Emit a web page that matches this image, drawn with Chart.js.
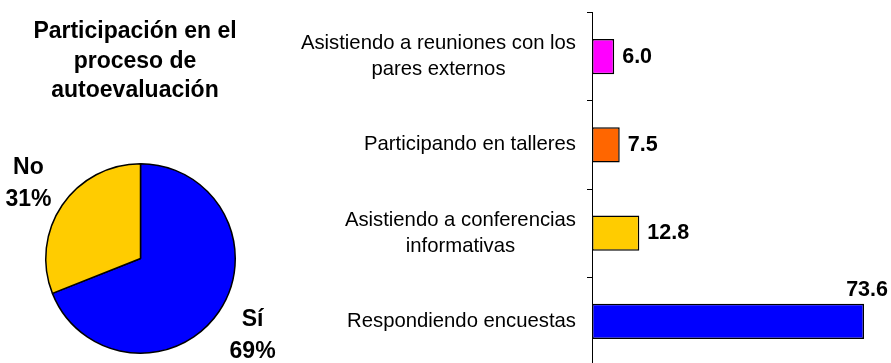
<!DOCTYPE html>
<html lang="es">
<head>
<meta charset="utf-8">
<title>Participación en el proceso de autoevaluación</title>
<script src="https://cdn.jsdelivr.net/npm/chart.js@4"></script>
<style>
  html, body { margin: 0; padding: 0; background: #fff; overflow: hidden; }
  #wrap { position: relative; width: 891px; height: 363px; overflow: hidden; }
  #pieChart { position: absolute; left: 0; top: 0; }
  #barChart { position: absolute; left: 290px; top: 0; }
</style>
</head>
<body>
<div id="wrap">
  <canvas id="pieChart" width="281" height="363"></canvas>
  <canvas id="barChart" width="601" height="366"></canvas>
</div>
<script>
// Datos
const pieTitle = ['Participación en el', 'proceso de', 'autoevaluación'];
const pieLabels = ['Sí', 'No'];
const pieValues = [69, 31];
const pieColors = ['#0000FF', '#FFCC00'];

const barLabels = [
  ['Asistiendo a reuniones con los', 'pares externos'],
  ['Participando en talleres'],
  ['Asistiendo a conferencias', 'informativas'],
  ['Respondiendo encuestas']
];
const barValues = [6.0, 7.5, 12.8, 73.6];
const barColors = ['#FF00FF', '#FF6600', '#FFCC00', '#0000FF'];

const FONT = '"Liberation Sans", Arial, sans-serif';

// Título y etiquetas del gráfico circular
const pieTextPlugin = {
  id: 'pieText',
  afterDraw(chart) {
    const ctx = chart.ctx;
    ctx.save();
    ctx.fillStyle = '#000';
    ctx.textAlign = 'center';
    ctx.textBaseline = 'alphabetic';
    ctx.font = 'bold 23px ' + FONT;
    pieTitle.forEach((line, i) => ctx.fillText(line, 135, 38 + i * 29.5));

    const meta = chart.getDatasetMeta(0);
    const total = pieValues.reduce((a, b) => a + b, 0);
    ctx.textBaseline = 'middle';
    meta.data.forEach((arc, i) => {
      const p = arc.getProps(['x', 'y', 'startAngle', 'endAngle', 'outerRadius'], true);
      const mid = (p.startAngle + p.endAngle) / 2;
      const r = p.outerRadius * 1.43;
      const cx = p.x + Math.cos(mid) * r;
      const cy = p.y + Math.sin(mid) * r + 1;
      const pct = Math.round(pieValues[i] / total * 100) + '%';
      ctx.fillText(pieLabels[i], cx, cy - 16);
      ctx.fillText(pct, cx, cy + 16);
    });
    ctx.restore();
  }
};

new Chart(document.getElementById('pieChart'), {
  type: 'pie',
  data: {
    labels: pieLabels,
    datasets: [{
      data: pieValues,
      backgroundColor: pieColors,
      borderColor: '#000',
      borderWidth: 1.5
    }]
  },
  options: {
    responsive: false,
    animation: false,
    layout: { padding: { top: 163, bottom: 9, left: 0, right: 0 } },
    plugins: {
      legend: { display: false },
      tooltip: { enabled: false }
    }
  },
  plugins: [pieTextPlugin]
});

// Etiquetas de categorías y valores de las barras
const barTextPlugin = {
  id: 'barText',
  afterDraw(chart) {
    const ctx = chart.ctx;
    const yScale = chart.scales.y;
    const meta = chart.getDatasetMeta(0);
    ctx.save();
    ctx.fillStyle = '#000';
    ctx.textBaseline = 'middle';

    // categorías: bloque alineado a la derecha, líneas centradas entre sí
    ctx.font = '20.3px ' + FONT;
    ctx.textAlign = 'center';
    const rightEdge = yScale.right - 16;
    barLabels.forEach((lines, i) => {
      const y = yScale.getPixelForValue(i);
      const maxW = Math.max(...lines.map(l => ctx.measureText(l).width));
      const cx = rightEdge - maxW / 2;
      lines.forEach((l, j) => {
        ctx.fillText(l, cx, y + (j - (lines.length - 1) / 2) * 26);
      });
    });

    // valores
    ctx.font = 'bold 21.5px ' + FONT;
    meta.data.forEach((bar, i) => {
      const txt = barValues[i].toFixed(1);
      const w = ctx.measureText(txt).width;
      const x = bar.x + 8;
      if (x + w > chart.width - 3) {
        ctx.textAlign = 'right';
        ctx.fillText(txt, chart.width - 3, bar.y - bar.height / 2 - 14);
      } else {
        ctx.textAlign = 'left';
        ctx.fillText(txt, x, bar.y);
      }
    });
    ctx.restore();
  }
};

new Chart(document.getElementById('barChart'), {
  type: 'bar',
  data: {
    labels: barLabels,
    datasets: [{
      data: barValues,
      backgroundColor: barColors,
      borderColor: '#000',
      borderWidth: 1.5,
      borderSkipped: false,
      categoryPercentage: 1,
      barPercentage: 0.4
    }]
  },
  options: {
    indexAxis: 'y',
    responsive: false,
    animation: false,
    layout: { padding: { top: 12.5, bottom: 0.5, left: 0, right: 3.3 } },
    plugins: {
      legend: { display: false },
      tooltip: { enabled: false }
    },
    scales: {
      x: {
        display: false,
        min: 0,
        max: 80
      },
      y: {
        afterFit(scale) { scale.width = 302; },
        ticks: { display: false },
        grid: {
          offset: true,
          drawOnChartArea: false,
          drawTicks: true,
          tickLength: 5,
          color: '#000',
          lineWidth: 1
        },
        border: { display: true, color: '#000', width: 1 }
      }
    }
  },
  plugins: [barTextPlugin]
});
</script>
</body>
</html>
